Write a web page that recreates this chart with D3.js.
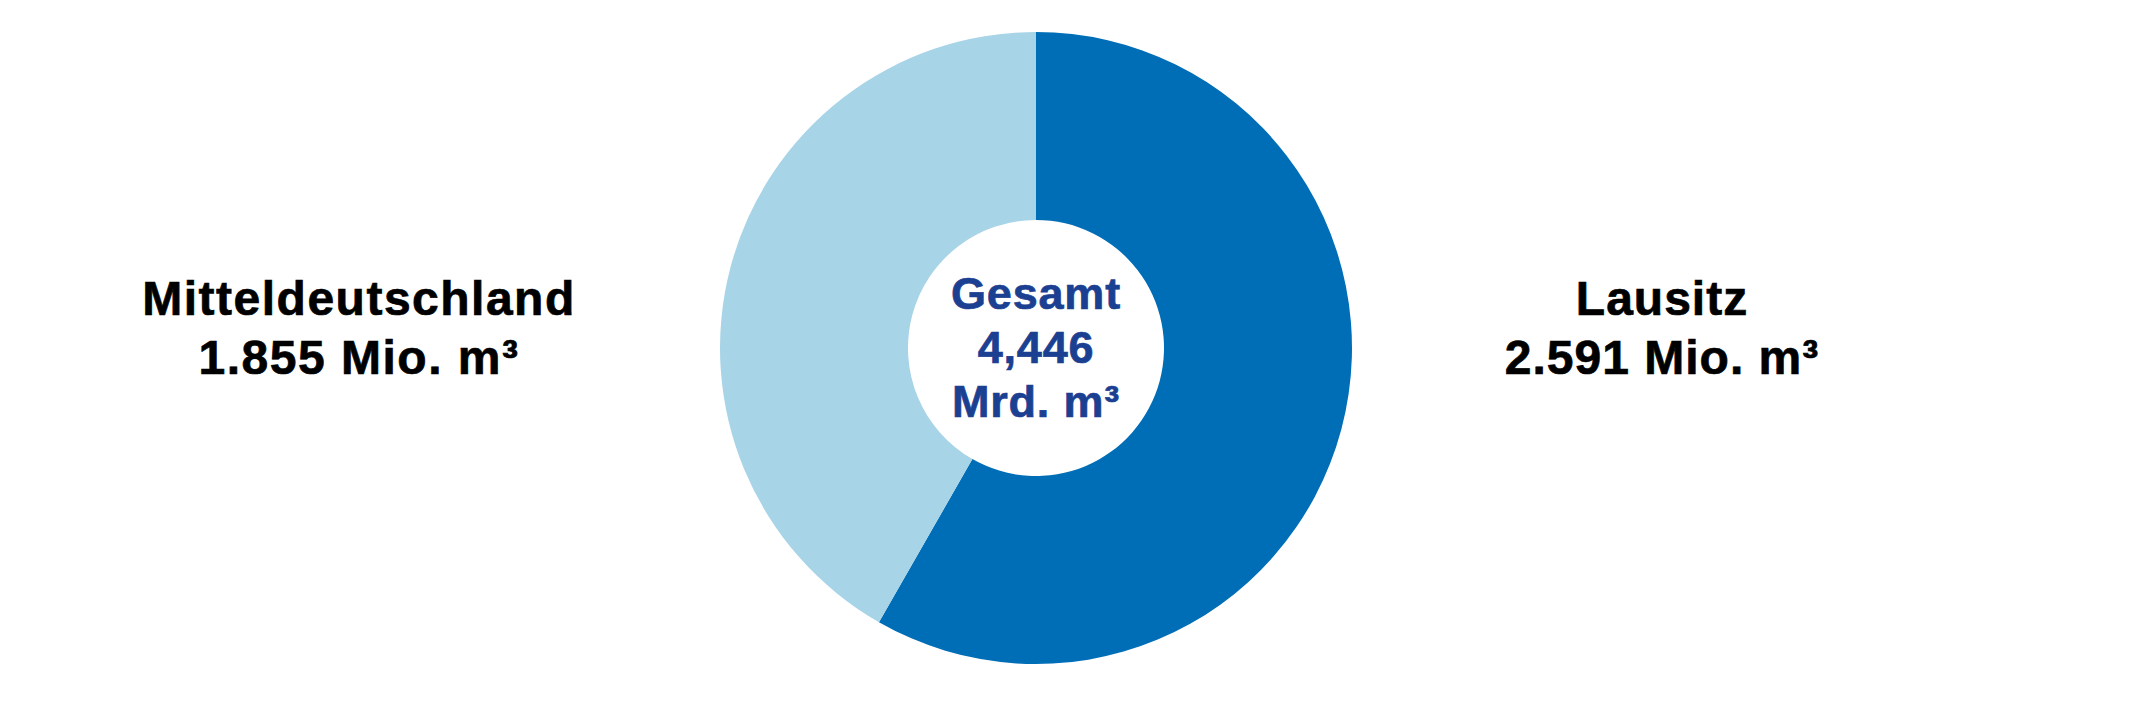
<!DOCTYPE html>
<html>
<head>
<meta charset="utf-8">
<script src="https://cdn.jsdelivr.net/npm/d3@7"></script>
<style>
  html, body { margin: 0; padding: 0; background: #ffffff; }
  svg { display: block; }
  text { font-family: "Liberation Sans", Arial, Helvetica, sans-serif; font-weight: bold; }
</style>
</head>
<body>
<svg id="chart" width="2148" height="716"></svg>
<script>
// Data
const regions = ["Lausitz", "Mitteldeutschland"];
const volumes = [2591, 1855]; // Mio. m³
const valueLabels = ["2.591 Mio. m³", "1.855 Mio. m³"];
const colors = ["#006eb7", "#a8d4e8"];
const centerLines = ["Gesamt", "4,446", "Mrd. m³"];

const W = 2148, H = 716;
const cx = 1036, cy = 348;
const outerR = 316, innerR = 128;

const svg = d3.select("#chart");
const data = regions.map((r, i) => ({ region: r, value: volumes[i], label: valueLabels[i], color: colors[i] }));

const pie = d3.pie().value(d => d.value).sort(null).startAngle(0).endAngle(2 * Math.PI);
const arc = d3.arc().innerRadius(innerR).outerRadius(outerR);

const g = svg.append("g").attr("transform", `translate(${cx},${cy})`);
g.selectAll("path")
  .data(pie(data))
  .join("path")
  .attr("d", arc)
  .attr("fill", d => d.data.color);

// Side labels
const labelPos = { "Lausitz": 1662, "Mitteldeutschland": 359 };
const labelSpacing = { "Lausitz": "1px", "Mitteldeutschland": "1.5px" };
data.forEach(d => {
  const t = svg.append("text")
    .attr("x", labelPos[d.region])
    .attr("text-anchor", "middle")
    .attr("fill", "#000000")
    .attr("stroke", "#000000")
    .attr("stroke-width", 0.7)
    .style("font-size", "48px")
    .style("letter-spacing", labelSpacing[d.region]);
  t.append("tspan").attr("x", labelPos[d.region]).attr("y", 315).text(d.region);
  t.append("tspan").attr("x", labelPos[d.region]).attr("y", 374).text(d.label);
});

// Center label
const ct = svg.append("text")
  .attr("text-anchor", "middle")
  .attr("fill", "#1b4092")
  .attr("stroke", "#1b4092")
  .attr("stroke-width", 0.7)
  .style("font-size", "45px")
  .style("letter-spacing", "0.8px");
const centerY = [309, 363, 417];
centerLines.forEach((s, i) => {
  ct.append("tspan").attr("x", cx).attr("y", centerY[i]).text(s);
});
</script>
</body>
</html>
